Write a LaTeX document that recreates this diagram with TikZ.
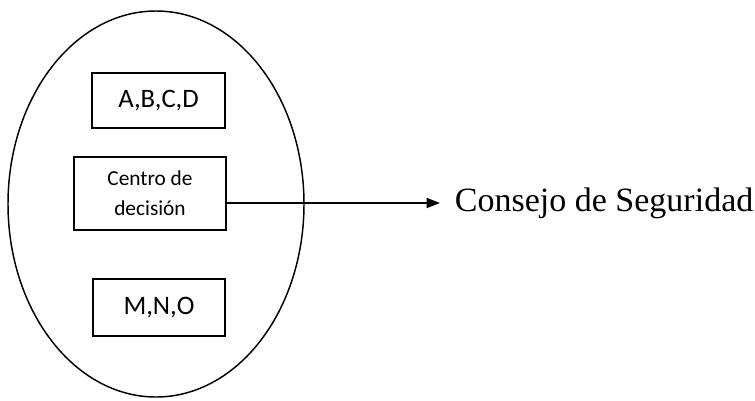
\documentclass[tikz,border=0pt]{standalone}
\usepackage{fontspec}
\setmainfont{Liberation Serif}
\newfontfamily\calibri{Carlito}
\usetikzlibrary{arrows.meta}

\begin{document}
\begin{tikzpicture}[x=0.75pt,y=-0.75pt,
		caja/.style={draw, line width=1.1pt, inner sep=0pt, align=center, font=\calibri},
		flecha/.style={line width=1.3pt, -{Triangle[length=10pt,width=7.5pt]}}]
				\useasboundingbox (0,0) rectangle (755,400);
				
				\draw[line width=1.1pt] (156,204) ellipse [x radius=148, y radius=193];
				
				\node[caja, minimum width=99.75pt, minimum height=41.25pt, font=\calibri\fontsize{20}{24}\selectfont] (abcd) at (158.5,100.5) {A,B,C,D};
				\node[caja, minimum width=114pt, minimum height=54.75pt, font=\calibri\fontsize{16}{22.5}\selectfont] (centro) at (150,193.5) {Centro de\\decisión};
				\node[caja, minimum width=99pt, minimum height=42.75pt, font=\calibri\fontsize{20}{24}\selectfont] (mno) at (159,307.5) {M,N,O};
				
				\node[anchor=west, inner xsep=11pt, inner ysep=0pt, font=\fontsize{25.5}{30}\selectfont] (consejo) at (440,203) {Consejo de Seguridad};
				\draw[flecha] (centro.east |- consejo.west) -- (consejo.west);
			\end{tikzpicture}
\end{document}
